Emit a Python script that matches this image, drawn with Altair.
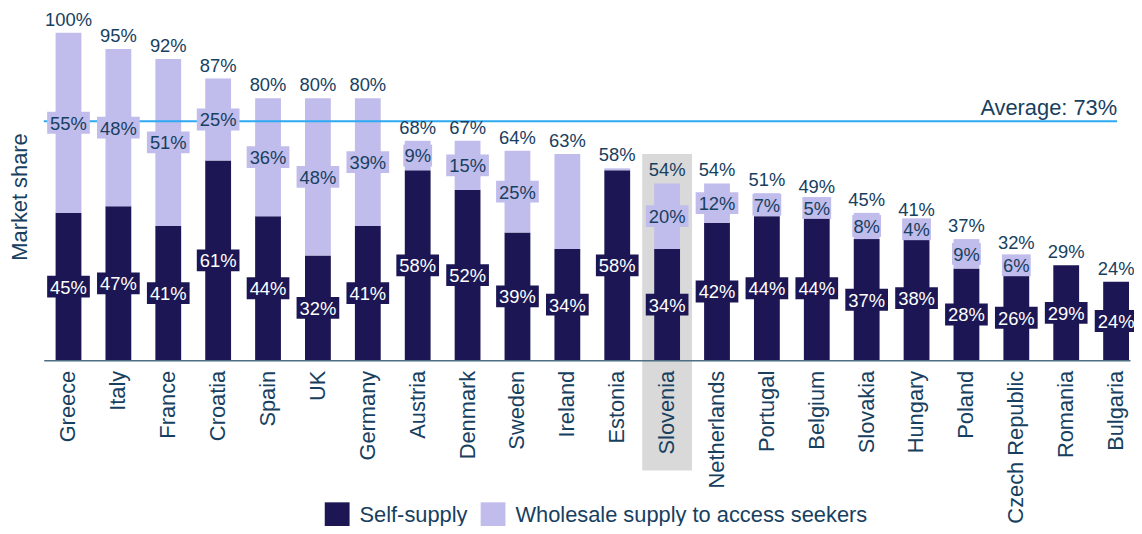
import altair as alt
import pandas as pd

countries = ["Greece", "Italy", "France", "Croatia", "Spain", "UK", "Germany", "Austria",
             "Denmark", "Sweden", "Ireland", "Estonia", "Slovenia", "Netherlands", "Portugal",
             "Belgium", "Slovakia", "Hungary", "Poland", "Czech Republic", "Romania", "Bulgaria"]
self_supply = [45, 47, 41, 61, 44, 32, 41, 58, 52, 39, 34, 58, 34, 42, 44, 44, 37, 38, 28, 26, 29, 24]
wholesale = [55, 48, 51, 25, 36, 48, 39, 9, 15, 25, 29, 0.6, 20, 12, 7, 5, 8, 4, 9, 6, 0, 0]
self_labels = ["45%", "47%", "41%", "61%", "44%", "32%", "41%", "58%", "52%", "39%", "34%", "58%",
               "34%", "42%", "44%", "44%", "37%", "38%", "28%", "26%", "29%", "24%"]
wholesale_labels = ["55%", "48%", "51%", "25%", "36%", "48%", "39%", "9%", "15%", "25%", "", "",
                    "20%", "12%", "7%", "5%", "8%", "4%", "9%", "6%", "", ""]
total_labels = ["100%", "95%", "92%", "87%", "80%", "80%", "80%", "68%", "67%", "64%", "63%", "58%",
                "54%", "54%", "51%", "49%", "45%", "41%", "37%", "32%", "29%", "24%"]
series_names = ["Self-supply", "Wholesale supply to access seekers"]
average_value = 73
average_label = "Average: 73%"
highlight_country = "Slovenia"
highlight_top = 63
highlight_bottom = -33.6

DARK = "#1c1754"
LIGHT = "#c0bcec"
TEXT = "#17405f"
FONT = "Liberation Sans"

rows = []
for i, c in enumerate(countries):
    rows.append({"Country": c, "Series": series_names[0], "value": self_supply[i], "ord": 0,
                 "mid": self_supply[i] / 2, "label": self_labels[i]})
    rows.append({"Country": c, "Series": series_names[1], "value": wholesale[i], "ord": 1,
                 "mid": self_supply[i] + wholesale[i] / 2, "label": wholesale_labels[i]})
df = pd.DataFrame(rows)
df["boxw"] = df["label"].str.len() * 14 + 1

tot = pd.DataFrame({"Country": countries,
                    "total": [a + b for a, b in zip(self_supply, wholesale)],
                    "label": total_labels})
hl = pd.DataFrame({"Country": [highlight_country], "top": [highlight_top],
                   "bottom": [highlight_bottom]})
avg = pd.DataFrame({"avg": [average_value], "label": [average_label]})

xscale = alt.Scale(domain=countries, paddingInner=0.4825, paddingOuter=0.129, align=0.92)
yscale = alt.Scale(domain=[0, 100], nice=False, zero=True)

x_enc = alt.X("Country:N", scale=xscale, sort=countries,
              axis=alt.Axis(title=None, labelAngle=-90, labelFontSize=22, labelFont=FONT,
                            labelColor=TEXT, ticks=False, domainColor="#4e6e82", domainWidth=1.5,
                            labelPadding=10, zindex=1, labelAlign="right", labelBaseline="middle"))
y_axis = alt.Axis(title="Market share", titleFontSize=22, titleFont=FONT, titleColor=TEXT,
                  titleFontWeight="normal", labels=False, ticks=False, domain=False, grid=False,
                  titlePadding=12)

highlight = alt.Chart(hl).mark_rect(color="#d9d9d9", width=alt.RelativeBandSize(1.93)).encode(
    x=x_enc,
    y=alt.Y("top:Q", scale=yscale, axis=y_axis),
    y2=alt.Y2("bottom:Q"),
)

bars = alt.Chart(df).mark_bar().encode(
    x=alt.X("Country:N", scale=xscale, sort=countries),
    y=alt.Y("value:Q", stack="zero", scale=yscale),
    color=alt.Color("Series:N", scale=alt.Scale(domain=series_names, range=[DARK, LIGHT]),
                    legend=alt.Legend(title=None, orient="none", direction="horizontal",
                                      legendX=283, legendY=473, symbolType="square",
                                      symbolSize=625, symbolStrokeWidth=0, labelFontSize=22,
                                      labelFont=FONT, labelColor=TEXT, labelOffset=10,
                                      columnPadding=13, labelLimit=500)),
    order=alt.Order("ord:Q"),
)

avg_rule = alt.Chart(avg).mark_rule(color="#2eaaf2", strokeWidth=2).encode(
    y=alt.Y("avg:Q", scale=yscale), x=alt.value(0), x2=alt.value(1081))
avg_text = alt.Chart(avg).mark_text(align="right", baseline="alphabetic", dy=-6, fontSize=22,
                                    font=FONT, color=TEXT).encode(
    y=alt.Y("avg:Q", scale=yscale), x=alt.value(1081), text="label:N")

lab = df[df["label"] != ""]
dark_lab = lab[lab["ord"] == 0]
light_lab = lab[lab["ord"] == 1]


def boxes(d, color):
    return alt.Chart(d).mark_tick(color=color, thickness=22, opacity=1).encode(
        x=alt.X("Country:N", scale=xscale, sort=countries),
        y=alt.Y("mid:Q", scale=yscale),
        size=alt.Size("boxw:Q", scale=None, legend=None))


def texts(d, color):
    return alt.Chart(d).mark_text(fontSize=18.5, font=FONT, color=color, baseline="middle", dy=1).encode(
        x=alt.X("Country:N", scale=xscale, sort=countries),
        y=alt.Y("mid:Q", scale=yscale),
        text="label:N")


totals = alt.Chart(tot).mark_text(fontSize=18.5, font=FONT, color=TEXT, baseline="alphabetic", dy=-7).encode(
    x=alt.X("Country:N", scale=xscale, sort=countries),
    y=alt.Y("total:Q", scale=yscale),
    text="label:N")

chart = alt.layer(
    highlight, bars, avg_rule, avg_text,
    boxes(dark_lab, DARK), boxes(light_lab, LIGHT),
    texts(dark_lab, "#ffffff"), texts(light_lab, TEXT), totals,
).properties(
    width=1094, height=330,
    autosize=alt.AutoSizeParams(type="none"),
    padding={"left": 36, "top": 23, "right": 4, "bottom": 165},
).configure_view(stroke=None)

chart.save("out.html", embed_options={"renderer": "svg", "actions": False})
